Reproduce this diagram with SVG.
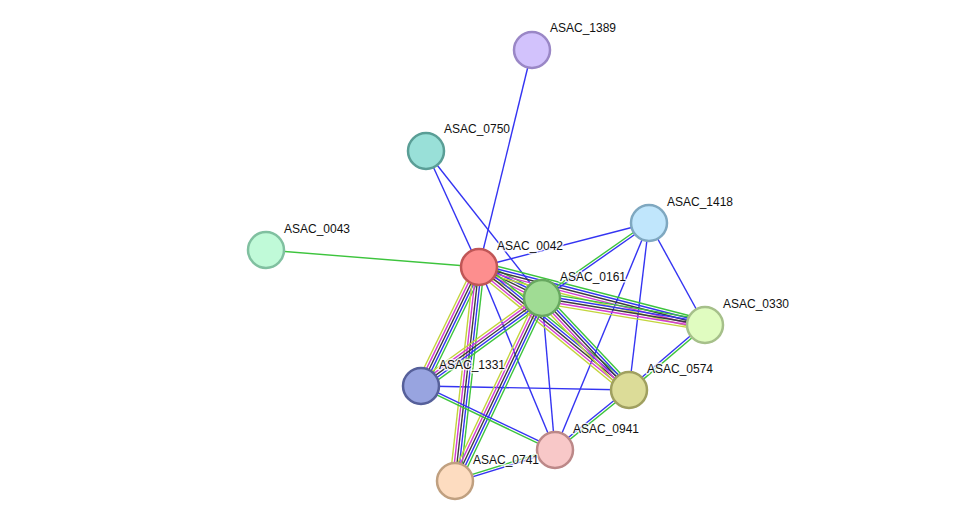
<svg xmlns="http://www.w3.org/2000/svg" width="975" height="527" viewBox="0 0 975 527">
<style>
.e line,#b5 line,#b2 line{stroke-width:1.4;fill:none;vector-effect:non-scaling-stroke}
.g{stroke:#3dc43d}.b{stroke:#3434f2}.k{stroke:#3c3c3c}.m{stroke:#d23cd2}.y{stroke:#c3d43c}
.n circle{stroke-width:2.5}
.n text{font-family:"Liberation Sans",Arial,sans-serif;font-size:12px;fill:#111;stroke:#fff;stroke-width:3px;stroke-opacity:0.8;paint-order:stroke;stroke-linejoin:round}
</style>
<defs>
<g id="b5">
<line class="g" x1="0" y1="-5.2" x2="1" y2="-5.2"/>
<line class="b" x1="0" y1="-2.6" x2="1" y2="-2.6"/>
<line class="k" x1="0" y1="0" x2="1" y2="0"/>
<line class="m" x1="0" y1="2.6" x2="1" y2="2.6"/>
<line class="y" x1="0" y1="5.2" x2="1" y2="5.2"/>
</g>
<g id="b2">
<line class="g" x1="0" y1="-1.2" x2="1" y2="-1.2"/>
<line class="b" x1="0" y1="1.2" x2="1" y2="1.2"/>
</g>
</defs>
<rect width="975" height="527" fill="#fff"/>
<g id="edges" class="e">
<line class="b" x1="532" y1="50" x2="479" y2="267"/>
<line class="b" x1="426" y1="151" x2="479" y2="267"/>
<line class="b" x1="426" y1="151" x2="542" y2="298"/>
<line class="g" x1="266" y1="250" x2="479" y2="267"/>
<line class="b" x1="649" y1="223" x2="479" y2="267"/>
<line class="b" x1="649" y1="223" x2="705" y2="325"/>
<line class="b" x1="649" y1="223" x2="629" y2="390"/>
<line class="b" x1="649" y1="223" x2="555" y2="450"/>
<line class="b" x1="479" y1="267" x2="555" y2="450"/>
<line class="b" x1="542" y1="298" x2="555" y2="450"/>
<line class="b" x1="421" y1="386" x2="629" y2="390"/>
<use href="#b5" transform="translate(479,267) rotate(26.2) scale(70.2,1)"/>
<use href="#b5" transform="translate(479,267) rotate(14.4) scale(233.3,1)"/>
<use href="#b5" transform="translate(479,267) rotate(39.35) scale(194,1)"/>
<use href="#b5" transform="translate(479,267) rotate(116) scale(132.4,1)"/>
<use href="#b5" transform="translate(479,267) rotate(96.4) scale(215.3,1)"/>
<use href="#b5" transform="translate(542,298) rotate(9.4) scale(165.2,1)"/>
<use href="#b5" transform="translate(542,298) rotate(46.6) scale(126.6,1)"/>
<use href="#b5" transform="translate(542,298) rotate(144) scale(149.6,1)"/>
<use href="#b5" transform="translate(542,298) rotate(115.4) scale(202.6,1)"/>
<use href="#b2" transform="translate(542,298) rotate(-35) scale(130.7,1)"/>
<use href="#b2" transform="translate(555,450) rotate(205.5) scale(148.5,1)"/>
<use href="#b2" transform="translate(455,481) rotate(-17.2) scale(104.7,1)"/>
<use href="#b2" transform="translate(629,390) rotate(141) scale(95.3,1)"/>
<use href="#b2" transform="translate(705,325) rotate(139.5) scale(100,1)"/>
</g>
<g id="ASAC_1389" class="n"><circle cx="532" cy="50" r="18" fill="#d2c2fc" stroke="#9a87c6"/><text x="550" y="32">ASAC_1389</text></g>
<g id="ASAC_0750" class="n"><circle cx="426" cy="151" r="18" fill="#99e0d8" stroke="#5a9e96"/><text x="444" y="133">ASAC_0750</text></g>
<g id="ASAC_1418" class="n"><circle cx="649" cy="223" r="18" fill="#c0e6fc" stroke="#7fa8c0"/><text x="667" y="206">ASAC_1418</text></g>
<g id="ASAC_0043" class="n"><circle cx="266" cy="250" r="18" fill="#c0fad8" stroke="#80c0a0"/><text x="284" y="233">ASAC_0043</text></g>
<g id="ASAC_0042" class="n"><circle cx="479" cy="267" r="18" fill="#fd8e8e" stroke="#c05656"/><text x="497" y="250">ASAC_0042</text></g>
<g id="ASAC_0161" class="n"><circle cx="542" cy="298" r="18" fill="#a0dc94" stroke="#68a860"/><text x="560" y="281">ASAC_0161</text></g>
<g id="ASAC_0330" class="n"><circle cx="705" cy="325" r="18" fill="#e0fcc0" stroke="#a6c08a"/><text x="723" y="308">ASAC_0330</text></g>
<g id="ASAC_1331" class="n"><circle cx="421" cy="386" r="18" fill="#98a4e0" stroke="#56609a"/><text x="439" y="369">ASAC_1331</text></g>
<g id="ASAC_0574" class="n"><circle cx="629" cy="390" r="18" fill="#dcdc98" stroke="#a0a060"/><text x="647" y="373">ASAC_0574</text></g>
<g id="ASAC_0941" class="n"><circle cx="555" cy="450" r="18" fill="#f8c8c8" stroke="#bc8888"/><text x="573" y="433">ASAC_0941</text></g>
<g id="ASAC_0741" class="n"><circle cx="455" cy="481" r="18" fill="#fddcc0" stroke="#c0a080"/><text x="473" y="464">ASAC_0741</text></g>
</svg>
